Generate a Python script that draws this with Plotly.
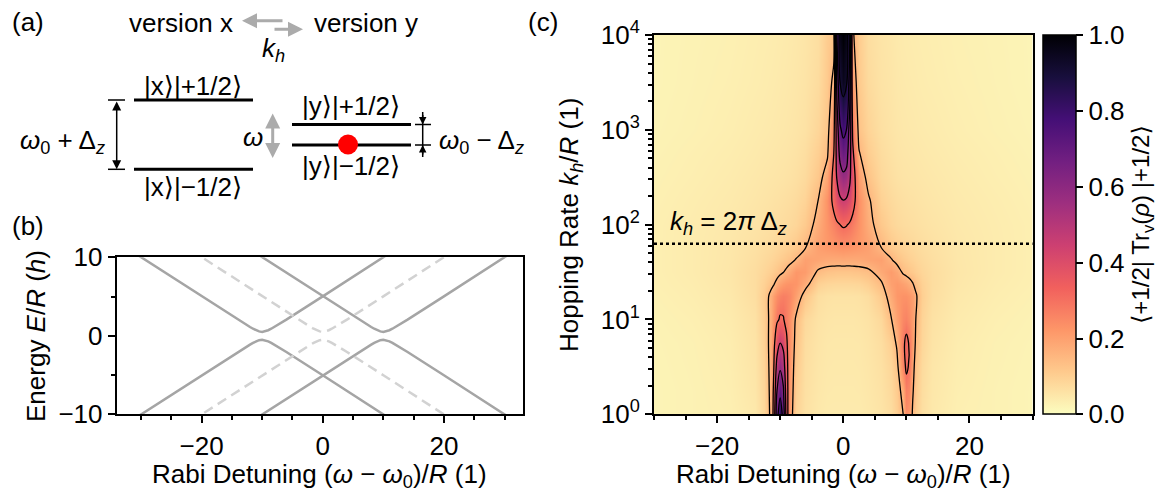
import math
import plotly.graph_objects as go

W, H = 1157, 495
FONT = "Liberation Sans, Arial, DejaVu Sans, sans-serif"


def px(x):
    return x / W


def py(y):
    return 1 - y / H


# ---------------- panel (b): dressed energy levels ----------------
det_left = [-34, -20, -14, -13, -12, -11.5, -11, -10.5, -10, -9.5, -9, -8.5, -8, -7, -6, 0, 14]
e_left_up = [12.01, 5.02, 2.06, 1.58, 1.12, 0.90, 0.71, 0.56, 0.50, 0.56, 0.71, 0.90, 1.12, 1.58, 2.06, 5.02, 12.01]
e_left_dn = [-12.01, -5.02, -2.06, -1.58, -1.12, -0.90, -0.71, -0.56, -0.50, -0.56, -0.71, -0.90, -1.12, -1.58, -2.06, -5.02, -12.01]

det_right = [-14, 0, 6, 7, 8, 8.5, 9, 9.5, 10, 10.5, 11, 11.5, 12, 13, 14, 20, 34]
e_right_up = [12.01, 5.02, 2.06, 1.58, 1.12, 0.90, 0.71, 0.56, 0.50, 0.56, 0.71, 0.90, 1.12, 1.58, 2.06, 5.02, 12.01]
e_right_dn = [-12.01, -5.02, -2.06, -1.58, -1.12, -0.90, -0.71, -0.56, -0.50, -0.56, -0.71, -0.90, -1.12, -1.58, -2.06, -5.02, -12.01]

det_mid = [-24, -10, -4, -3, -2, -1.5, -1, -0.5, 0, 0.5, 1, 1.5, 2, 3, 4, 10, 24]
e_mid_up = [12.01, 5.02, 2.06, 1.58, 1.12, 0.90, 0.71, 0.56, 0.50, 0.56, 0.71, 0.90, 1.12, 1.58, 2.06, 5.02, 12.01]
e_mid_dn = [-12.01, -5.02, -2.06, -1.58, -1.12, -0.90, -0.71, -0.56, -0.50, -0.56, -0.71, -0.90, -1.12, -1.58, -2.06, -5.02, -12.01]

# ---------------- panel (c): steady-state population map ----------------
detuning = [-30, -24, -18, -14, -12.5, -11.5, -11, -10.5, -10, -9.5, -9, -8.5, -7.5, -6, -4, -2.5,
            -1.5, -1, -0.5, 0, 0.5, 1, 1.5, 2.5, 4, 6, 7.5, 8.5, 9.5, 10, 10.5, 11, 11.5, 12.5,
            14, 18, 24, 30]
log_hopping = [0, 0.25, 0.5, 0.75, 1.0, 1.25, 1.375, 1.5, 1.625, 1.75, 2.0, 2.25, 2.5, 2.75, 3.0, 3.5, 4.0]

population = [
    # k_h/R = 10^0
    [0.020, 0.025, 0.030, 0.045, 0.080, 0.165, 0.350, 0.700, 0.840, 0.700, 0.380, 0.200, 0.090,
     0.060, 0.045, 0.040, 0.040, 0.040, 0.040, 0.040, 0.040, 0.040, 0.040, 0.040, 0.045, 0.055,
     0.070, 0.100, 0.150, 0.240, 0.220, 0.140, 0.100, 0.065, 0.045, 0.030, 0.025, 0.020],
    # 10^0.25
    [0.020, 0.025, 0.032, 0.050, 0.085, 0.170, 0.330, 0.600, 0.710, 0.620, 0.370, 0.210, 0.100,
     0.063, 0.048, 0.043, 0.042, 0.042, 0.042, 0.042, 0.042, 0.042, 0.042, 0.043, 0.048, 0.058,
     0.078, 0.110, 0.180, 0.265, 0.250, 0.160, 0.110, 0.070, 0.048, 0.032, 0.025, 0.020],
    # 10^0.5
    [0.021, 0.026, 0.034, 0.053, 0.090, 0.175, 0.300, 0.500, 0.580, 0.520, 0.350, 0.220, 0.110,
     0.066, 0.050, 0.045, 0.044, 0.044, 0.044, 0.044, 0.044, 0.044, 0.044, 0.045, 0.050, 0.062,
     0.085, 0.125, 0.260, 0.315, 0.290, 0.180, 0.120, 0.075, 0.050, 0.034, 0.026, 0.021],
    # 10^0.75
    [0.022, 0.027, 0.036, 0.056, 0.095, 0.180, 0.270, 0.390, 0.450, 0.420, 0.320, 0.230, 0.125,
     0.070, 0.053, 0.047, 0.046, 0.046, 0.046, 0.046, 0.046, 0.046, 0.046, 0.047, 0.053, 0.068,
     0.100, 0.160, 0.280, 0.325, 0.290, 0.200, 0.140, 0.085, 0.055, 0.036, 0.027, 0.022],
    # 10^1
    [0.024, 0.030, 0.040, 0.060, 0.100, 0.175, 0.230, 0.285, 0.310, 0.305, 0.275, 0.230, 0.140,
     0.080, 0.058, 0.052, 0.050, 0.050, 0.050, 0.050, 0.050, 0.050, 0.050, 0.052, 0.058, 0.080,
     0.140, 0.200, 0.250, 0.260, 0.240, 0.200, 0.150, 0.090, 0.060, 0.040, 0.030, 0.024],
    # 10^1.25
    [0.027, 0.034, 0.045, 0.068, 0.105, 0.170, 0.210, 0.240, 0.260, 0.270, 0.265, 0.250, 0.200,
     0.120, 0.068, 0.060, 0.058, 0.058, 0.058, 0.058, 0.058, 0.058, 0.058, 0.060, 0.070, 0.110,
     0.180, 0.220, 0.230, 0.230, 0.220, 0.200, 0.160, 0.100, 0.068, 0.045, 0.034, 0.027],
    # 10^1.375
    [0.029, 0.036, 0.048, 0.070, 0.095, 0.125, 0.145, 0.175, 0.200, 0.215, 0.225, 0.230, 0.225,
     0.175, 0.095, 0.085, 0.083, 0.082, 0.082, 0.082, 0.082, 0.082, 0.083, 0.085, 0.100, 0.140,
     0.200, 0.215, 0.200, 0.190, 0.175, 0.155, 0.130, 0.095, 0.070, 0.048, 0.036, 0.029],
    # 10^1.5
    [0.030, 0.038, 0.050, 0.070, 0.085, 0.100, 0.110, 0.120, 0.135, 0.148, 0.165, 0.185, 0.220,
     0.210, 0.140, 0.125, 0.122, 0.120, 0.120, 0.120, 0.120, 0.120, 0.122, 0.125, 0.135, 0.180,
     0.210, 0.185, 0.140, 0.130, 0.120, 0.110, 0.100, 0.085, 0.070, 0.050, 0.038, 0.030],
    # 10^1.625
    [0.030, 0.038, 0.049, 0.066, 0.077, 0.086, 0.092, 0.098, 0.105, 0.112, 0.120, 0.130, 0.155,
     0.200, 0.190, 0.180, 0.178, 0.178, 0.178, 0.180, 0.178, 0.178, 0.178, 0.180, 0.190, 0.200,
     0.160, 0.130, 0.112, 0.105, 0.098, 0.092, 0.086, 0.077, 0.066, 0.049, 0.038, 0.030],
    # 10^1.75
    [0.030, 0.038, 0.048, 0.062, 0.070, 0.076, 0.080, 0.084, 0.088, 0.092, 0.097, 0.102, 0.115,
     0.150, 0.200, 0.215, 0.222, 0.225, 0.228, 0.230, 0.228, 0.225, 0.222, 0.215, 0.200, 0.152,
     0.115, 0.102, 0.092, 0.088, 0.084, 0.080, 0.076, 0.070, 0.062, 0.048, 0.038, 0.030],
    # 10^2
    [0.030, 0.037, 0.045, 0.055, 0.060, 0.064, 0.066, 0.068, 0.070, 0.072, 0.075, 0.078, 0.086,
     0.110, 0.175, 0.225, 0.265, 0.285, 0.300, 0.310, 0.305, 0.290, 0.270, 0.230, 0.175, 0.115,
     0.088, 0.078, 0.072, 0.070, 0.068, 0.066, 0.064, 0.060, 0.055, 0.045, 0.037, 0.030],
    # 10^2.25
    [0.028, 0.035, 0.042, 0.050, 0.054, 0.057, 0.059, 0.060, 0.062, 0.064, 0.066, 0.069, 0.075,
     0.090, 0.150, 0.230, 0.330, 0.390, 0.430, 0.445, 0.435, 0.400, 0.340, 0.235, 0.160, 0.095,
     0.077, 0.069, 0.064, 0.062, 0.060, 0.059, 0.057, 0.054, 0.050, 0.042, 0.035, 0.028],
    # 10^2.5
    [0.026, 0.032, 0.039, 0.046, 0.049, 0.051, 0.052, 0.053, 0.054, 0.055, 0.057, 0.059, 0.064,
     0.076, 0.115, 0.190, 0.340, 0.460, 0.540, 0.575, 0.560, 0.480, 0.360, 0.200, 0.125, 0.080,
     0.066, 0.059, 0.055, 0.054, 0.053, 0.052, 0.051, 0.049, 0.046, 0.039, 0.032, 0.026],
    # 10^2.75
    [0.024, 0.030, 0.036, 0.042, 0.045, 0.047, 0.048, 0.049, 0.050, 0.051, 0.052, 0.054, 0.058,
     0.068, 0.100, 0.140, 0.300, 0.500, 0.640, 0.685, 0.660, 0.520, 0.320, 0.155, 0.105, 0.072,
     0.060, 0.054, 0.051, 0.050, 0.049, 0.048, 0.047, 0.045, 0.042, 0.036, 0.030, 0.024],
    # 10^3
    [0.022, 0.027, 0.033, 0.039, 0.041, 0.043, 0.044, 0.045, 0.046, 0.047, 0.048, 0.050, 0.053,
     0.060, 0.085, 0.120, 0.260, 0.520, 0.730, 0.785, 0.750, 0.550, 0.280, 0.125, 0.090, 0.064,
     0.055, 0.050, 0.047, 0.046, 0.045, 0.044, 0.043, 0.041, 0.039, 0.033, 0.027, 0.022],
    # 10^3.5
    [0.020, 0.025, 0.030, 0.035, 0.037, 0.039, 0.040, 0.041, 0.042, 0.043, 0.044, 0.046, 0.049,
     0.055, 0.072, 0.110, 0.170, 0.650, 0.900, 0.950, 0.920, 0.700, 0.200, 0.110, 0.075, 0.057,
     0.051, 0.046, 0.043, 0.042, 0.041, 0.040, 0.039, 0.037, 0.035, 0.030, 0.025, 0.020],
    # 10^4
    [0.020, 0.024, 0.028, 0.033, 0.035, 0.036, 0.037, 0.038, 0.039, 0.040, 0.041, 0.043, 0.046,
     0.052, 0.066, 0.105, 0.120, 0.750, 0.970, 1.000, 0.970, 0.800, 0.160, 0.105, 0.068, 0.054,
     0.048, 0.043, 0.040, 0.039, 0.038, 0.037, 0.036, 0.035, 0.033, 0.028, 0.024, 0.020],
]

contour_levels = dict(start=0.15, end=0.91, size=0.15)
zeeman_splitting = 10.0  # Delta_z / R

detuning_ticks = [-20, 0, 20]
energy_ticks = [-10, 0, 10]
decade_ticks = [0, 1, 2, 3, 4]
decade_labels = ["10<sup>0</sup>", "10<sup>1</sup>", "10<sup>2</sup>", "10<sup>3</sup>", "10<sup>4</sup>"]
colorbar_ticks = [0.0, 0.2, 0.4, 0.6, 0.8, 1.0]

SOLID = "#a5a5a5"
DASHED = "#d2d2d2"

fig = go.Figure()

for xs, ys in [(det_left, e_left_up), (det_left, e_left_dn), (det_right, e_right_up), (det_right, e_right_dn)]:
    fig.add_trace(go.Scatter(x=xs, y=ys, mode="lines", line=dict(color=SOLID, width=2.5),
                             xaxis="x", yaxis="y", showlegend=False, hoverinfo="skip"))
for xs, ys in [(det_mid, e_mid_up), (det_mid, e_mid_dn)]:
    fig.add_trace(go.Scatter(x=xs, y=ys, mode="lines", line=dict(color=DASHED, width=2.5, dash="10px,6px"),
                             xaxis="x", yaxis="y", showlegend=False, hoverinfo="skip"))

cb_len = (414.3 - 35) / H
fig.add_trace(go.Heatmap(
    x=detuning, y=log_hopping, z=population, xaxis="x2", yaxis="y2",
    colorscale="Magma", reversescale=True, zmin=0, zmax=1, zsmooth="best",
    colorbar=dict(
        x=px(1043), xanchor="left", y=py(414.3), yanchor="bottom", len=cb_len, lenmode="fraction",
        thickness=33, thicknessmode="pixels", xpad=0, ypad=0,
        outlinewidth=1.5, outlinecolor="black",
        ticks="outside", ticklen=7, tickwidth=2, tickcolor="black",
        tickvals=colorbar_ticks, tickformat=".1f", tickfont=dict(size=26, family=FONT),
    ),
    hoverinfo="skip",
))
fig.add_trace(go.Contour(
    x=detuning, y=log_hopping, z=population, xaxis="x2", yaxis="y2",
    contours=dict(coloring="none", **contour_levels),
    line=dict(color="black", width=1.3, smoothing=1.0),
    showscale=False, hoverinfo="skip",
))

axis_common = dict(showline=True, mirror=True, linewidth=2, linecolor="black",
                   ticks="outside", ticklen=7, tickwidth=2, tickcolor="black",
                   showgrid=False, zeroline=False, tickfont=dict(size=26, family=FONT))

minor_ticks = dict(ticks="outside", ticklen=4, tickwidth=1.5, tickcolor="black", showgrid=False)

log_minor = [n + math.log10(m) for n in range(4) for m in range(2, 10)]

fig.update_layout(
    width=W, height=H, margin=dict(l=0, r=0, t=0, b=0, autoexpand=False),
    paper_bgcolor="white", plot_bgcolor="white",
    font=dict(family=FONT, size=26, color="black"),
    showlegend=False,
    xaxis=dict(domain=[px(116.7), px(522.7)], range=[-34, 33], anchor="y",
               tickvals=detuning_ticks, minor=dict(dtick=5, tick0=0, **minor_ticks), **axis_common),
    yaxis=dict(domain=[py(414.3), py(257.3)], range=[-10, 10], anchor="x",
               tickvals=energy_ticks, minor=dict(dtick=5, tick0=0, **minor_ticks), **axis_common),
    xaxis2=dict(domain=[px(654), px(1032.5)], range=[-30, 30], anchor="y2",
                tickvals=detuning_ticks, minor=dict(dtick=5, tick0=0, **minor_ticks), **axis_common),
    yaxis2=dict(domain=[py(414.3), py(35)], range=[0, 4], anchor="x2",
                tickvals=decade_ticks, ticktext=decade_labels,
                minor=dict(tickvals=log_minor, **minor_ticks), **axis_common),
)

# k_h = 2 pi Delta_z marker line
k_mark = math.log10(2 * math.pi * zeeman_splitting)
fig.add_shape(type="line", xref="x2 domain", x0=0, x1=1, yref="y2", y0=k_mark, y1=k_mark,
              line=dict(color="black", width=2.5, dash="dot"))

annotations = []


def text(x, y, s, xanchor="center", yanchor="middle", size=26, angle=0):
    annotations.append(dict(x=px(x), y=py(y), xref="paper", yref="paper", text=s, showarrow=False,
                            xanchor=xanchor, yanchor=yanchor, textangle=angle,
                            font=dict(size=size, family=FONT, color="black")))


def arrow(x, y, ax, ay, color, width, both=False, size=1.0):
    annotations.append(dict(x=px(x), y=py(y), xref="paper", yref="paper", ax=ax, ay=ay,
                            axref="pixel", ayref="pixel", text="", showarrow=True,
                            arrowhead=2, arrowsize=size, arrowwidth=width, arrowcolor=color,
                            arrowside="end+start" if both else "end", standoff=0, startstandoff=0))


def seg(x0, y0, x1, y1, color="black", width=3):
    fig.add_shape(type="line", xref="paper", yref="paper", x0=px(x0), y0=py(y0), x1=px(x1), y1=py(y1),
                  line=dict(color=color, width=width))


# panel labels
text(28, 22, "(a)")
text(28, 226, "(b)")
text(543, 22, "(c)")

# panel (a): two versions and their levels
GRAY = "#ababab"
text(235, 23, "version x", xanchor="right")
text(312, 23, "version y", xanchor="left")
arrow(242, 20.7, 42, 0, GRAY, 3)
arrow(303, 29.3, -30, 0, GRAY, 3)
text(273, 50, "<i>k</i><sub><i>h</i></sub>")

seg(134, 100, 253, 100)
seg(134, 169.3, 253, 169.3)
text(193, 86, "|x⟩|+1/2⟩")
text(193, 187, "|x⟩|−1/2⟩")

seg(108, 100, 125, 100, width=1.5)
seg(108, 169.3, 125, 169.3, width=1.5)
arrow(116.7, 169.3, 0, -69.3, "black", 1.5, both=True, size=1.2)
text(107, 141, "<i>ω</i><sub>0</sub> + Δ<sub><i>z</i></sub>", xanchor="right")

text(253, 137, "<i>ω</i>")
arrow(272.7, 158, 0, -46, GRAY, 3, both=True)

seg(292, 124.5, 411, 124.5)
seg(292, 145, 411, 145)
text(351, 106, "|y⟩|+1/2⟩")
text(351, 166, "|y⟩|−1/2⟩")
fig.add_shape(type="circle", xref="paper", yref="paper", x0=px(338), x1=px(358), y0=py(134.5), y1=py(154.5),
              fillcolor="#ff0000", line=dict(width=0))

seg(422.7, 112, 422.7, 157, width=1.5)
seg(415, 124.5, 431, 124.5, width=1.5)
seg(415, 145, 431, 145, width=1.5)
arrow(422.7, 124.5, 0, -11, "black", 1.5, size=1.0)
arrow(422.7, 145, 0, 11, "black", 1.5, size=1.0)
text(437, 141, "<i>ω</i><sub>0</sub> − Δ<sub><i>z</i></sub>", xanchor="left")

# axis titles
text(36, 336, "Energy <i>E</i>/<i>R</i> (<i>h</i>)", angle=-90)
text(319.7, 475, "Rabi Detuning (<i>ω</i> − <i>ω</i><sub>0</sub>)/<i>R</i> (1)")
text(570, 225, "Hopping Rate <i>k</i><sub><i>h</i></sub>/<i>R</i> (1)", angle=-90)
text(843, 475, "Rabi Detuning (<i>ω</i> − <i>ω</i><sub>0</sub>)/<i>R</i> (1)")
text(1142, 225, "⟨+1/2| Tr<sub>v</sub>(<i>ρ</i>) |+1/2⟩", angle=-90, size=24)

annotations.append(dict(x=-27.8, y=2.02, xref="x2", yref="y2", xanchor="left", yanchor="middle",
                        text="<i>k</i><sub><i>h</i></sub> = 2<i>π</i> Δ<sub><i>z</i></sub>", showarrow=False,
                        font=dict(size=26, family=FONT, color="black")))

fig.update_layout(annotations=annotations)
fig.write_html("out.html")
